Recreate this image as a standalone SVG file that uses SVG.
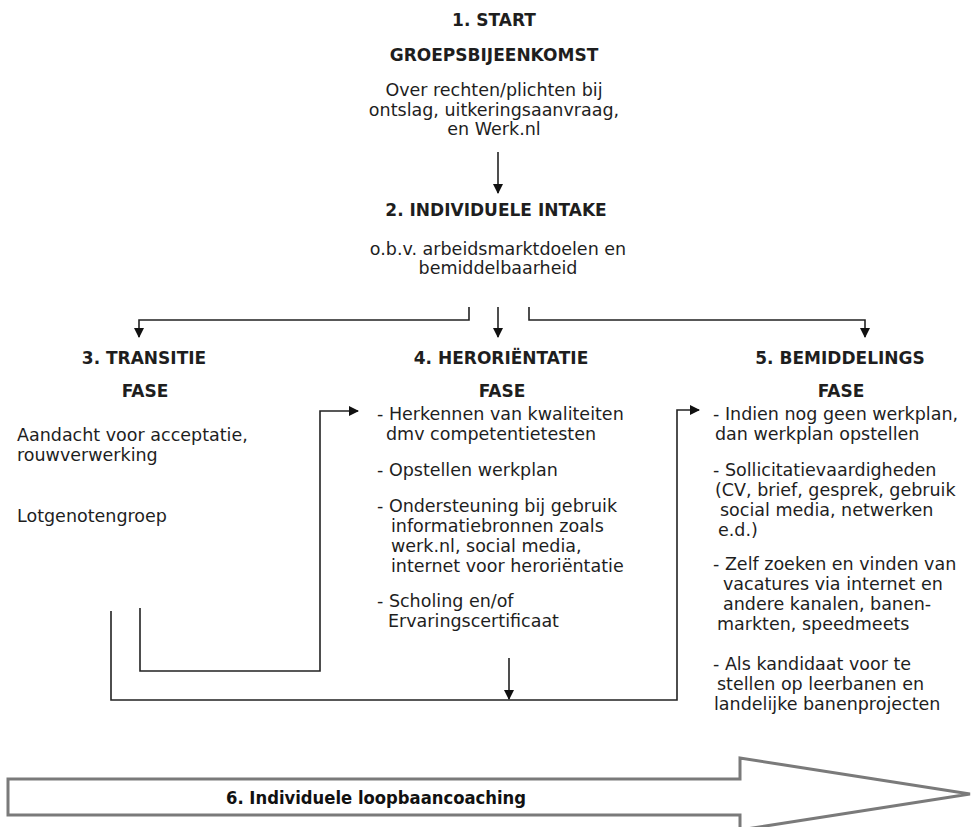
<svg xmlns="http://www.w3.org/2000/svg" width="974" height="827" viewBox="0 0 974 827">
<defs>
<style>
text{font-family:"DejaVu Sans","Verdana",sans-serif;fill:#1e1e1e;font-size:17.5px}
.h{font-weight:bold;font-size:17px;text-anchor:middle}
.c{text-anchor:middle}
.ln{fill:none;stroke:#222;stroke-width:1.6}
.big{fill:#fff;stroke:#7a7a7a;stroke-width:3}
.bt{font-family:"DejaVu Sans Condensed","DejaVu Sans",sans-serif;font-weight:bold;font-size:17px;fill:#111}
</style>
<marker id="ah" viewBox="0 0 10 10" refX="9" refY="5" markerWidth="10" markerHeight="10" markerUnits="userSpaceOnUse" orient="auto">
<path d="M0,0 L10,5 L0,10 z" fill="#111"/>
</marker>
</defs>
<rect width="974" height="827" fill="#fff"/>
<g id="n1">
<text class="h" x="494" y="26">1. START</text>
<text class="h" x="494" y="61">GROEPSBIJEENKOMST</text>
<text class="c" x="494" y="96">Over rechten/plichten bij</text>
<text class="c" x="494" y="116">ontslag, uitkeringsaanvraag,</text>
<text class="c" x="494" y="135">en Werk.nl</text>
</g>
<g id="n2">
<text class="h" x="496" y="216">2. INDIVIDUELE INTAKE</text>
<text class="c" x="498" y="255">o.b.v. arbeidsmarktdoelen en</text>
<text class="c" x="498" y="274">bemiddelbaarheid</text>
</g>
<g id="n3">
<text class="h" x="144" y="364">3. TRANSITIE</text>
<text class="h" x="145" y="397">FASE</text>
<text x="17" y="441">Aandacht voor acceptatie,</text>
<text x="17" y="461">rouwverwerking</text>
<text x="17" y="522">Lotgenotengroep</text>
</g>
<g id="n4">
<text class="h" x="501" y="364">4. HERORIËNTATIE</text>
<text class="h" x="502" y="397">FASE</text>
<text x="377" y="420">- Herkennen van kwaliteiten</text>
<text x="386" y="440">dmv competentietesten</text>
<text x="377" y="476">- Opstellen werkplan</text>
<text x="377" y="512">- Ondersteuning bij gebruik</text>
<text x="391" y="532">informatiebronnen zoals</text>
<text x="391" y="552">werk.nl, social media,</text>
<text x="391" y="572">internet voor heroriëntatie</text>
<text x="377" y="607">- Scholing en/of</text>
<text x="388" y="627">Ervaringscertificaat</text>
</g>
<g id="n5">
<text class="h" x="840" y="364">5. BEMIDDELINGS</text>
<text class="h" x="841" y="397">FASE</text>
<text x="713" y="420">- Indien nog geen werkplan,</text>
<text x="715" y="440">dan werkplan opstellen</text>
<text x="713" y="476">- Sollicitatievaardigheden</text>
<text x="715" y="496">(CV, brief, gesprek, gebruik</text>
<text x="720" y="516">social media, netwerken</text>
<text x="718" y="536">e.d.)</text>
<text x="713" y="570">- Zelf zoeken en vinden van</text>
<text x="723" y="590">vacatures via internet en</text>
<text x="723" y="610">andere kanalen, banen-</text>
<text x="717" y="630">markten, speedmeets</text>
<text x="713" y="670">- Als kandidaat voor te</text>
<text x="717" y="690">stellen op leerbanen en</text>
<text x="714" y="710">landelijke banenprojecten</text>
</g>
<g id="n6">
<path class="big" d="M8,779 H740 V758 L970,794 L740,830 V815 H8 Z"/>
<text class="bt" x="226" y="804" textLength="300" lengthAdjust="spacingAndGlyphs">6. Individuele loopbaancoaching</text>
</g>
<g id="connectors">
<path class="ln" marker-end="url(#ah)" d="M498,152 V193"/>
<path class="ln" marker-end="url(#ah)" d="M469,307 V320 H139 V337"/>
<path class="ln" marker-end="url(#ah)" d="M498,307 V337"/>
<path class="ln" marker-end="url(#ah)" d="M529,307 V320 H865 V337"/>
<path class="ln" marker-end="url(#ah)" d="M140,608 V671 H320 V411 H358"/>
<path class="ln" marker-end="url(#ah)" d="M111,611 V700 H677 V410 H699"/>
<path class="ln" marker-end="url(#ah)" d="M509,658 V699"/>
</g>
</svg>
